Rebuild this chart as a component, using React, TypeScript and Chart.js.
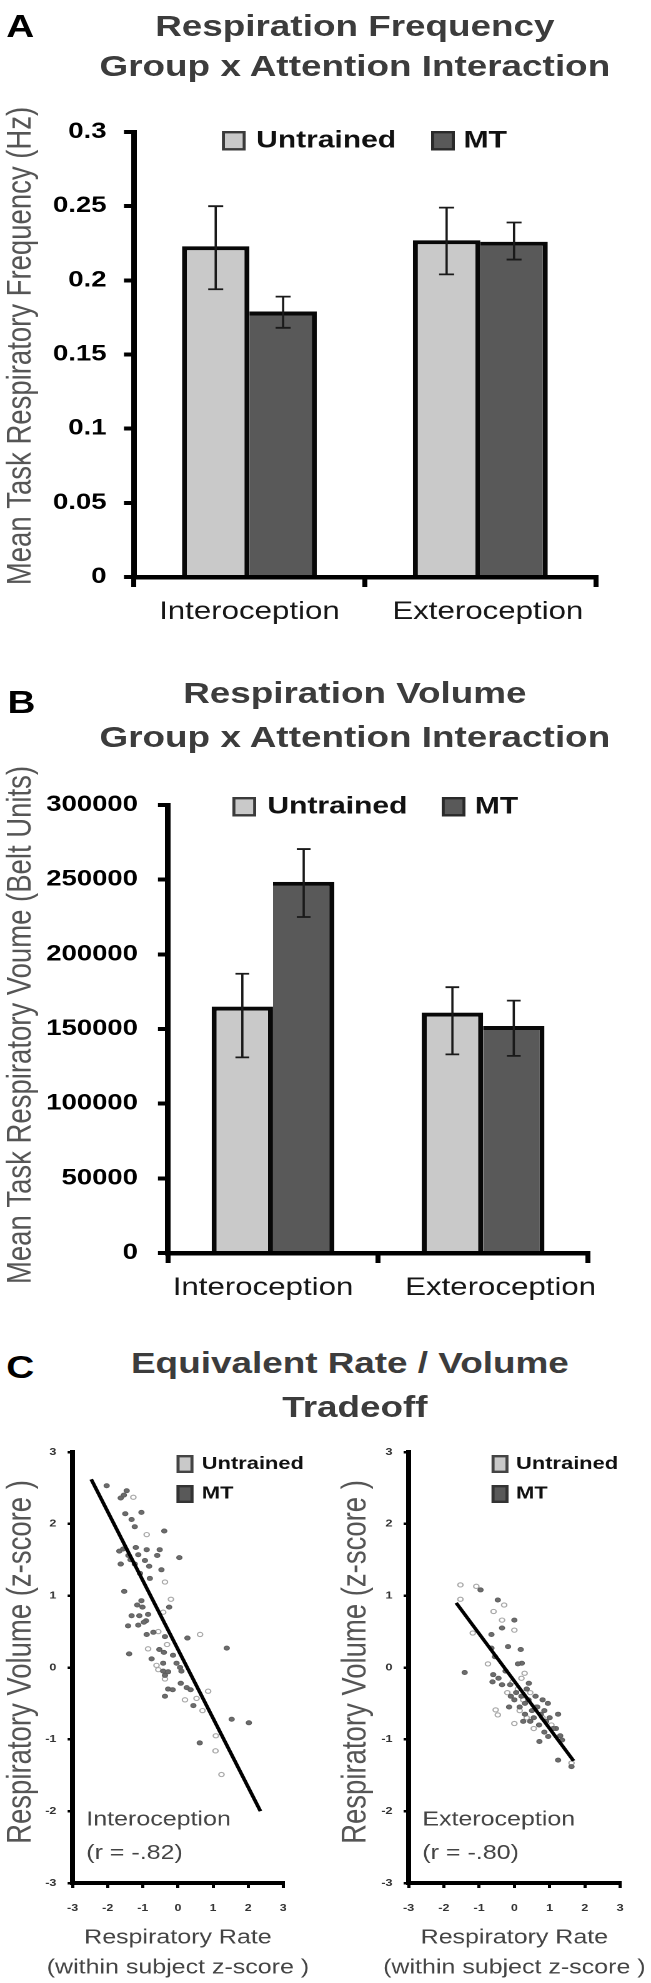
import React, { useEffect, useRef } from 'react';
import { Chart, registerables } from 'chart.js';

Chart.register(...registerables);

// ---------- data ----------
const attentionCategories = ['Interoception', 'Exteroception'];
const groupLabels = ['Untrained', 'MT'];

// Panel A: respiration frequency (Hz)
const freqUntrained = [0.223, 0.227];
const freqMT = [0.179, 0.226];
const freqUntrainedErrUp = [0.027, 0.022];
const freqUntrainedErrDown = [0.029, 0.023];
const freqMTErrUp = [0.01, 0.013];
const freqMTErrDown = [0.011, 0.012];

// Panel B: respiration volume (belt units)
const volUntrained = [165000, 161000];
const volMT = [248500, 152000];
const volUntrainedErrUp = [22000, 17000];
const volUntrainedErrDown = [34000, 28000];
const volMTErrUp = [22000, 17000];
const volMTErrDown = [23500, 20000];

// Panel C: z-scores [rate, volume]
const interoUntrained: [number, number][] = [
  [-1.27, 2.37], [-0.89, 1.85], [-0.37, 1.19], [-0.42, 0.77], [-0.56, 0.5], [0.63, 0.46],
  [-0.85, 0.26], [-0.31, 0.32], [-0.61, 0.03], [-0.56, -0.03], [-0.37, -0.16], [0.86, -0.33],
  [0.53, -0.43], [0.7, -0.6], [1.08, -0.95], [1.07, -1.16], [1.24, -1.49], [-0.2, 0.95], [0.2, -0.45],
];
const interoMT: [number, number][] = [
  [-2.03, 2.53], [-1.46, 2.46], [-1.54, 2.4], [-1.63, 2.36], [-1.5, 2.14], [-1.04, 2.16],
  [-1.32, 2.06], [-1.23, 1.96], [-0.39, 1.9], [-1.67, 1.62], [-1.56, 1.65], [-1.2, 1.67],
  [-0.89, 1.64], [-0.52, 1.64], [-1.41, 1.56], [-1.13, 1.57], [-1.63, 1.44], [-1.35, 1.5],
  [-1.23, 1.44], [-0.94, 1.49], [-0.59, 1.56], [0.04, 1.53], [-0.82, 1.41], [-0.47, 1.36],
  [-0.8, 1.24], [-1.08, 1.31], [-1.53, 1.06], [-1.04, 0.93], [-1.16, 0.87], [-1.01, 0.84],
  [-0.25, 0.84], [-1.32, 0.72], [-1.1, 0.72], [-0.85, 0.74], [-0.91, 0.65], [-1.42, 0.58],
  [-1.13, 0.59], [-0.97, 0.63], [-0.7, 0.49], [-0.89, 0.46], [-0.37, 0.43], [0.27, 0.41],
  [1.39, 0.27], [-1.39, 0.19], [-0.53, 0.25], [-0.4, 0.21], [-0.75, 0.12], [-0.14, 0.17],
  [-0.04, 0.06], [-0.42, 0.06], [0.06, 0.0], [-0.42, -0.05], [-0.28, -0.06], [-0.37, -0.11],
  [0.1, -0.05], [0.08, -0.22], [0.25, -0.28], [0.36, -0.31], [-0.28, -0.3], [-0.15, -0.31],
  [-0.37, -0.4], [0.44, -0.53], [1.53, -0.72], [2.02, -0.77], [0.62, -1.05],
];
const exteroUntrained: [number, number][] = [
  [-1.53, 1.15], [-1.08, 1.13], [-1.53, 0.95], [-0.29, 0.87], [-0.59, 0.78], [-0.35, 0.66],
  [0.0, 0.52], [-1.18, 0.48], [0.29, -0.08], [-0.53, -0.59], [-0.47, -0.66], [0.0, -0.78],
  [1.62, -1.33], [0.1, -0.3], [0.25, -0.45], [0.45, -0.35], [0.6, -0.55], [0.15, -0.6],
  [-0.2, -0.35], [0.8, -0.7], [0.35, -0.7], [-0.05, -0.2], [0.55, -0.85], [1.05, -0.8],
  [-0.75, 0.05], [0.2, -0.15],
];
const exteroMT: [number, number][] = [
  [-0.96, 1.08], [-0.47, 0.94], [0.0, 0.66], [-0.35, 0.55], [-0.65, 0.46], [-0.18, 0.29],
  [0.18, 0.25], [-1.41, -0.07], [-0.65, 0.27], [0.21, 0.06], [-0.6, -0.1], [-0.45, -0.15],
  [-0.62, -0.2], [-0.35, -0.24], [-0.12, -0.24], [0.41, -0.22], [1.24, -0.65], [1.18, -0.85],
  [0.71, -1.03], [0.96, -0.96], [1.35, -1.01], [1.24, -1.29], [1.62, -1.38], [0.05, -0.35],
  [0.2, -0.4], [0.3, -0.5], [0.4, -0.45], [0.5, -0.6], [0.65, -0.55], [0.75, -0.65],
  [0.85, -0.6], [0.9, -0.75], [1.0, -0.7], [0.7, -0.8], [0.55, -0.7], [0.45, -0.75],
  [0.3, -0.65], [0.15, -0.55], [0.0, -0.45], [-0.1, -0.4], [0.6, -0.4], [0.8, -0.45],
  [1.1, -0.85], [0.95, -0.5], [-0.25, -0.05], [-0.55, 0.15], [0.1, 0.05], [0.35, -0.3],
  [1.3, -0.95], [0.85, -0.9], [-0.15, -0.55], [0.25, -0.75],
];
const interoFitX = [-2.47, 2.35];
const interoFitY = [2.62, -2.0];
const exteroFitX = [-1.65, 1.68];
const exteroFitY = [0.9, -1.3];

// ---------- styling ----------
const STRETCH = 651 / 521;
const FONT = "'Liberation Sans', Arial, Helvetica, sans-serif";
const LIGHT = '#c9c9c9';
const DARK = '#595959';

const errorBarPlugin = (cap: number, width: number) => ({
  id: 'errorBars',
  afterDatasetsDraw(chart: any) {
    const ctx = chart.ctx;
    const yScale = chart.scales.y;
    chart.data.datasets.forEach((ds: any, i: number) => {
      const meta = chart.getDatasetMeta(i);
      meta.data.forEach((el: any, j: number) => {
        const v = ds.data[j];
        const top = yScale.getPixelForValue(v + ds.errUp[j]);
        const bot = yScale.getPixelForValue(v - ds.errDown[j]);
        ctx.save();
        ctx.strokeStyle = '#1a1a1a';
        ctx.lineWidth = width;
        ctx.beginPath();
        ctx.moveTo(el.x, top);
        ctx.lineTo(el.x, bot);
        ctx.moveTo(el.x - cap, top);
        ctx.lineTo(el.x + cap, top);
        ctx.moveTo(el.x - cap, bot);
        ctx.lineTo(el.x + cap, bot);
        ctx.stroke();
        ctx.restore();
      });
    });
  },
});

type LegendItem = { label: string; fill: string; stroke: string; bx: number; by: number; tx: number; ty: number };
const boxLegendPlugin = (items: LegendItem[], bw: number, bh: number, size: number) => ({
  id: 'boxLegend',
  afterDraw(chart: any) {
    const ctx = chart.ctx;
    ctx.save();
    items.forEach((it) => {
      ctx.fillStyle = it.fill;
      ctx.fillRect(it.bx, it.by, bw, bh);
      ctx.strokeStyle = it.stroke;
      ctx.lineWidth = 2.4;
      ctx.strokeRect(it.bx + 1.2, it.by + 1.2, bw - 2.4, bh - 2.4);
      ctx.fillStyle = '#111';
      ctx.font = `bold ${size}px ${FONT}`;
      ctx.textBaseline = 'middle';
      ctx.textAlign = 'left';
      ctx.fillText(it.label, it.tx, it.ty);
    });
    ctx.restore();
  },
});

const notePlugin = (lines: { text: string; x: number; y: number }[]) => ({
  id: 'notes',
  afterDraw(chart: any) {
    const ctx = chart.ctx;
    ctx.save();
    ctx.fillStyle = '#444';
    ctx.font = `20px ${FONT}`;
    ctx.textBaseline = 'middle';
    ctx.textAlign = 'left';
    lines.forEach((l) => {
      ctx.fillText(l.text, chart.scales.x.getPixelForValue(l.x), chart.scales.y.getPixelForValue(l.y));
    });
    ctx.restore();
  },
});

// Axis titles / category labels drawn without Chart.js' width squeezing
const axisTextPlugin = (o: {
  yTitle: string; yTitleX: number; yTitleCenter: number;
  xLines?: { text: string; dy: number }[]; xSize?: number;
  catLabels?: string[]; catOffsets?: number[]; catDy?: number;
}) => ({
  id: 'axisText',
  afterDraw(chart: any) {
    const ctx = chart.ctx;
    const area = chart.chartArea;
    ctx.save();
    ctx.fillStyle = '#555';
    ctx.font = `27.5px ${FONT}`;
    ctx.textAlign = 'center';
    ctx.textBaseline = 'middle';
    ctx.translate(o.yTitleX, o.yTitleCenter);
    ctx.rotate(-Math.PI / 2);
    ctx.fillText(o.yTitle, 0, 0);
    ctx.restore();

    if (o.xLines) {
      ctx.save();
      ctx.fillStyle = '#444';
      ctx.font = `${o.xSize}px ${FONT}`;
      ctx.textAlign = 'center';
      ctx.textBaseline = 'middle';
      const cx = (area.left + area.right) / 2;
      o.xLines.forEach((l) => ctx.fillText(l.text, cx, area.bottom + l.dy));
      ctx.restore();
    }
    if (o.catLabels) {
      ctx.save();
      ctx.fillStyle = '#161616';
      ctx.font = `25px ${FONT}`;
      ctx.textAlign = 'center';
      ctx.textBaseline = 'middle';
      o.catLabels.forEach((lab, i) => {
        const x = chart.scales.x.getPixelForValue(i) + (o.catOffsets ? o.catOffsets[i] : 0);
        ctx.fillText(lab, x, area.bottom + (o.catDy || 35));
      });
      ctx.restore();
    }
  },
});

const fmt = (v: any) => String(Number(Number(v).toFixed(6)));

function barConfig(o: {
  u: number[]; m: number[]; uUp: number[]; uDn: number[]; mUp: number[]; mDn: number[];
  max: number; step: number; yTitle: string; yTitleCenter: number; yWidth: number; tickPad: number;
  padding: any; legend: LegendItem[]; cap: number; catOffsets: number[];
}): any {
  return {
    type: 'bar',
    data: {
      labels: attentionCategories,
      datasets: [
        {
          label: groupLabels[0], data: o.u, errUp: o.uUp, errDown: o.uDn,
          backgroundColor: LIGHT, borderColor: '#080808',
          borderWidth: { left: 4, top: 4, right: 4, bottom: 0 },
          barPercentage: 1, categoryPercentage: 0.584,
        },
        {
          label: groupLabels[1], data: o.m, errUp: o.mUp, errDown: o.mDn,
          backgroundColor: DARK, borderColor: '#080808',
          borderWidth: { left: 0, top: 4, right: 4, bottom: 0 },
          barPercentage: 1, categoryPercentage: 0.584,
        },
      ],
    },
    options: {
      responsive: true, maintainAspectRatio: false, animation: false, devicePixelRatio: 2,
      events: [],
      layout: { padding: o.padding },
      plugins: { legend: { display: false }, tooltip: { enabled: false }, title: { display: false } },
      scales: {
        x: {
          z: 1,
          grid: { display: true, drawOnChartArea: false, drawTicks: true, tickLength: 10, lineWidth: 4, color: '#000', offset: true },
          border: { display: true, color: '#000', width: 4.5 },
          ticks: { display: false },
          afterFit: (s: any) => { s.height = 60; },
        },
        y: {
          z: 1, min: 0, max: o.max,
          grid: { display: true, drawOnChartArea: false, drawTicks: true, tickLength: 8, lineWidth: 4, color: '#000' },
          border: { display: true, color: '#000', width: 4.5 },
          ticks: {
            stepSize: o.step, font: { family: FONT, size: 22, weight: 'bold' }, color: '#000', padding: o.tickPad,
            callback: fmt,
          },
          title: { display: false },
          afterFit: (s: any) => { s.width = o.yWidth; },
        },
      },
    },
    plugins: [
      errorBarPlugin(o.cap, 1.8),
      boxLegendPlugin(o.legend, 19, 19.5, 24),
      axisTextPlugin({
        yTitle: o.yTitle, yTitleX: 17, yTitleCenter: o.yTitleCenter,
        catLabels: attentionCategories, catOffsets: o.catOffsets, catDy: 35,
      }),
    ],
  };
}

function scatterConfig(o: {
  u: [number, number][]; m: [number, number][]; fitX: number[]; fitY: number[];
  note: string; r: string; yWidth: number; padding: any; legendX: number; textX: number;
}): any {
  const toPts = (a: [number, number][]) => a.map(([x, y]) => ({ x, y }));
  return {
    type: 'scatter',
    data: {
      datasets: [
        {
          label: 'fit', data: o.fitX.map((x, i) => ({ x, y: o.fitY[i] })), showLine: true,
          borderColor: '#000', borderWidth: 3, pointRadius: 0, fill: false,
        },
        {
          label: groupLabels[1], data: toPts(o.m), pointRadius: 2.1,
          backgroundColor: '#6c6c6c', borderColor: '#5c5c5c', borderWidth: 0.8,
        },
        {
          label: groupLabels[0], data: toPts(o.u), pointRadius: 2.1,
          backgroundColor: 'rgba(255,255,255,0.9)', borderColor: '#a8a8a8', borderWidth: 1.1,
        },
      ],
    },
    options: {
      responsive: true, maintainAspectRatio: false, animation: false, devicePixelRatio: 2,
      events: [],
      layout: { padding: o.padding },
      plugins: { legend: { display: false }, tooltip: { enabled: false } },
      scales: {
        x: {
          type: 'linear', z: 1, min: -3, max: 3,
          grid: { display: true, drawOnChartArea: false, drawTicks: true, tickLength: 5, lineWidth: 2.5, color: '#000' },
          border: { display: true, color: '#000', width: 4 },
          ticks: { stepSize: 1, font: { family: FONT, size: 10, weight: 'bold' }, color: '#333', padding: 14, callback: fmt },
          title: { display: false },
          afterFit: (s: any) => { s.height = 100; },
        },
        y: {
          type: 'linear', z: 1, min: -3, max: 3,
          grid: { display: true, drawOnChartArea: false, drawTicks: true, tickLength: 4, lineWidth: 2.5, color: '#000' },
          border: { display: true, color: '#000', width: 4 },
          ticks: { stepSize: 1, font: { family: FONT, size: 10, weight: 'bold' }, color: '#333', padding: 9, callback: fmt },
          title: { display: false },
          afterFit: (s: any) => { s.width = o.yWidth; },
        },
      },
    },
    plugins: [
      boxLegendPlugin(
        [
          { label: groupLabels[0], fill: LIGHT, stroke: '#444', bx: o.legendX, by: 35, tx: o.textX, ty: 44 },
          { label: groupLabels[1], fill: DARK, stroke: '#333', bx: o.legendX, by: 65, tx: o.textX, ty: 73.5 },
        ],
        13.5, 18, 17.5,
      ),
      notePlugin([
        { text: o.note, x: -2.61, y: -2.12 },
        { text: o.r, x: -2.61, y: -2.59 },
      ]),
      axisTextPlugin({
        yTitle: 'Respiratory Volume (z-score )', yTitleX: 17, yTitleCenter: 242,
        xLines: [
          { text: 'Respiratory Rate', dy: 55 },
          { text: '(within subject z-score )', dy: 85 },
        ],
        xSize: 20,
      }),
    ],
  };
}

function ChartBox({ left, top, width, height, make }: { left: number; top: number; width: number; height: number; make: () => any }) {
  const ref = useRef<HTMLCanvasElement>(null);
  useEffect(() => {
    const chart = new Chart(ref.current as HTMLCanvasElement, make());
    return () => chart.destroy();
  }, []);
  return (
    <div style={{ position: 'absolute', left, top, width, height }}>
      <canvas ref={ref} />
    </div>
  );
}

function Txt({ x, y, text, size, color, weight = 'bold', anchor = 'center' }: any) {
  return (
    <div
      style={{
        position: 'absolute', left: x, top: y,
        transform: anchor === 'center' ? 'translate(-50%, -50%)' : 'translate(0, -50%)',
        fontSize: size, fontWeight: weight, color, lineHeight: 1, whiteSpace: 'nowrap', fontFamily: FONT,
      }}
    >
      {text}
    </div>
  );
}

export default function App() {
  return (
    <div
      style={{
        position: 'absolute', left: 0, top: 0, width: 521, height: 1983, background: '#fff',
        transform: `scaleX(${STRETCH})`, transformOrigin: '0 0', overflow: 'hidden',
      }}
    >
      <ChartBox
        left={0} top={0} width={521} height={640}
        make={() => barConfig({
          u: freqUntrained, m: freqMT, uUp: freqUntrainedErrUp, uDn: freqUntrainedErrDown,
          mUp: freqMTErrUp, mDn: freqMTErrDown, max: 0.3, step: 0.05,
          yTitle: 'Mean Task Respiratory Frequency (Hz)', yTitleCenter: 346, yWidth: 107.2, tickPad: 14,
          padding: { left: 0, top: 132, right: 44.2, bottom: 3 }, cap: 6, catOffsets: [0, 6],
          legend: [
            { label: groupLabels[0], fill: LIGHT, stroke: '#3a3a3a', bx: 177.6, by: 131, tx: 205, ty: 141 },
            { label: groupLabels[1], fill: DARK, stroke: '#2a2a2a', bx: 345, by: 131, tx: 371, ty: 141 },
          ],
        })}
      />
      <ChartBox
        left={0} top={640} width={521} height={680}
        make={() => barConfig({
          u: volUntrained, m: volMT, uUp: volUntrainedErrUp, uDn: volUntrainedErrDown,
          mUp: volMTErrUp, mDn: volMTErrDown, max: 300000, step: 50000,
          yTitle: 'Mean Task Respiratory Voume (Belt Units)', yTitleCenter: 385, yWidth: 134.4, tickPad: 16,
          padding: { left: 0, top: 165, right: 50.3, bottom: 7 }, cap: 5.5, catOffsets: [-8, 14],
          legend: [
            { label: groupLabels[0], fill: LIGHT, stroke: '#3a3a3a', bx: 186, by: 157, tx: 214, ty: 167 },
            { label: groupLabels[1], fill: DARK, stroke: '#2a2a2a', bx: 353.5, by: 157, tx: 380, ty: 167 },
          ],
        })}
      />
      <ChartBox
        left={0} top={1420} width={262} height={563}
        make={() => scatterConfig({
          u: interoUntrained, m: interoMT, fitX: interoFitX, fitY: interoFitY,
          note: 'Interoception', r: '(r = -.82)', yWidth: 58.1,
          padding: { left: 0, top: 32, right: 35.3, bottom: 0 }, legendX: 141.3, textX: 161.5,
        })}
      />
      <ChartBox
        left={268} top={1420} width={253} height={563}
        make={() => scatterConfig({
          u: exteroUntrained, m: exteroMT, fitX: exteroFitX, fitY: exteroFitY,
          note: 'Exteroception', r: '(r = -.80)', yWidth: 59,
          padding: { left: 0, top: 32, right: 24.7, bottom: 0 }, legendX: 125.4, textX: 145,
        })}
      />

      <Txt x={5} y={26} text="A" size={31} color="#000" anchor="left" />
      <Txt x={284} y={26} text="Respiration Frequency" size={29.5} color="#3c3c3c" />
      <Txt x={284} y={66} text="Group x Attention Interaction" size={29.5} color="#3c3c3c" />

      <Txt x={6} y={702} text="B" size={31} color="#000" anchor="left" />
      <Txt x={284} y={693} text="Respiration Volume" size={29.5} color="#3c3c3c" />
      <Txt x={284} y={737} text="Group x Attention Interaction" size={29.5} color="#3c3c3c" />

      <Txt x={5} y={1367} text="C" size={31} color="#000" anchor="left" />
      <Txt x={280} y={1363} text="Equivalent Rate / Volume" size={29.5} color="#3c3c3c" />
      <Txt x={284} y={1407} text="Tradeoff" size={29.5} color="#3c3c3c" />
    </div>
  );
}
